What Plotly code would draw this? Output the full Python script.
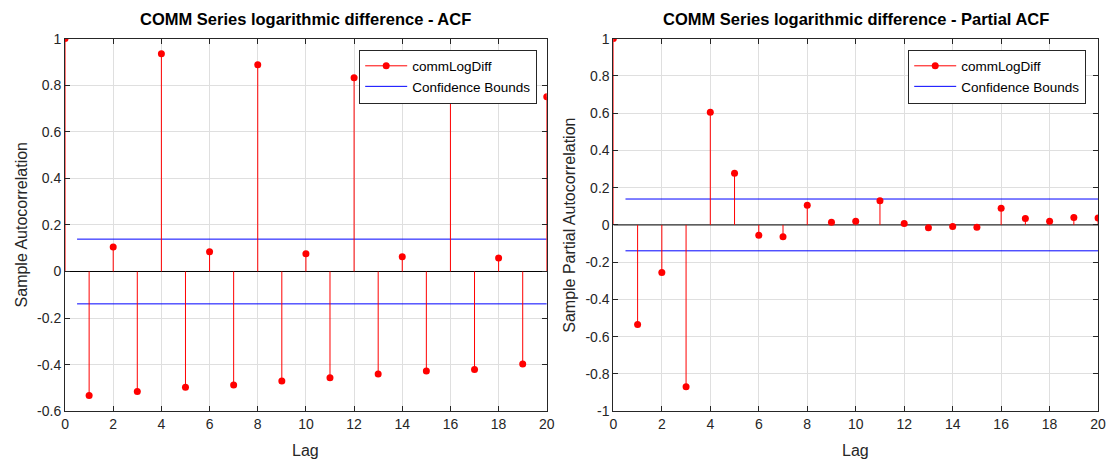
import plotly.graph_objects as go

lags = list(range(0, 21))
acf_vals = [1.0, -0.532, 0.105, -0.515, 0.935, -0.497, 0.085, -0.487, 0.888, -0.470,
            0.076, -0.456, 0.832, -0.440, 0.063, -0.427, 0.790, -0.421, 0.058, -0.397, 0.750]
pacf_vals = [1.0, -0.535, -0.255, -0.868, 0.605, 0.278, -0.055, -0.063, 0.105, 0.015,
             0.020, 0.130, 0.008, -0.015, -0.008, -0.013, 0.090, 0.035, 0.020, 0.040, 0.037]
conf_bound = 0.139
conf_start = 0.5
series_name = "commLogDiff"
bounds_name = "Confidence Bounds"
titles = ["COMM Series logarithmic difference - ACF",
          "COMM Series logarithmic difference - Partial ACF"]
ylabels = ["Sample Autocorrelation", "Sample Partial Autocorrelation"]
xticks = list(range(0, 21, 2))
yticks_left = [-0.6, -0.4, -0.2, 0, 0.2, 0.4, 0.6, 0.8, 1]
yticks_right = [-1, -0.8, -0.6, -0.4, -0.2, 0, 0.2, 0.4, 0.6, 0.8, 1]
yranges = [[-0.6, 1], [-1, 1]]

W, H = 1114, 468
RED = "#ff0000"
BLUE = "#0000ff"
AX = "#262626"
GRID = "#dfdfdf"
FONT = "Liberation Sans, Arial, sans-serif"

fig = go.Figure()

panels = [
    dict(vals=acf_vals, xd=[61.7, 548.7], xa="x", ya="y", leg="legend", yt=yticks_left),
    dict(vals=pacf_vals, xd=[616, 1106], xa="x2", ya="y2", leg="legend2", yt=yticks_right),
]
ytop, ybot = 31.7, 417.5

for i, p in enumerate(panels):
    sx, sy = [], []
    for k, v in zip(lags, p["vals"]):
        sx += [k, k, None]
        sy += [0, v, None]
    # baseline
    fig.add_trace(go.Scatter(x=[lags[0], lags[-1]], y=[0, 0], mode="lines",
                             line=dict(color="#000000", width=1), showlegend=False,
                             xaxis=p["xa"], yaxis=p["ya"], hoverinfo="skip"))
    # confidence bounds
    for j, s in enumerate((1, -1)):
        fig.add_trace(go.Scatter(x=[conf_start, lags[-1]], y=[s * conf_bound] * 2, mode="lines",
                                 line=dict(color=BLUE, width=1), name=bounds_name,
                                 showlegend=(j == 0), legend=p["leg"], legendrank=2,
                                 xaxis=p["xa"], yaxis=p["ya"]))
    # stems
    fig.add_trace(go.Scatter(x=sx, y=sy, mode="lines", line=dict(color=RED, width=1),
                             showlegend=False, xaxis=p["xa"], yaxis=p["ya"], hoverinfo="skip"))
    # markers
    fig.add_trace(go.Scatter(x=lags, y=p["vals"], mode="markers",
                             marker=dict(color=RED, size=7), showlegend=False,
                             xaxis=p["xa"], yaxis=p["ya"]))
    # legend entry for stems
    fig.add_trace(go.Scatter(x=[None], y=[None], mode="lines+markers", name=series_name,
                             line=dict(color=RED, width=1), marker=dict(color=RED, size=7),
                             legend=p["leg"], legendrank=1, xaxis=p["xa"], yaxis=p["ya"]))

    axkey = "xaxis" if i == 0 else "xaxis2"
    aykey = "yaxis" if i == 0 else "yaxis2"
    fig.update_layout(**{
        axkey: dict(domain=[p["xd"][0] / W, p["xd"][1] / W], range=[0, 20],
                    tickvals=xticks, showgrid=True, gridcolor=GRID, zeroline=False,
                    showline=True, linecolor=AX, linewidth=1, mirror="ticks",
                    ticks="inside", ticklen=5, tickcolor=AX, anchor=p["ya"],
                    tickfont=dict(size=14, color=AX, family=FONT)),
        aykey: dict(domain=[1 - ybot / H, 1 - ytop / H], range=yranges[i],
                    tickvals=p["yt"], ticktext=[f"{t:g}" for t in p["yt"]],
                    showgrid=True, gridcolor=GRID, zeroline=False,
                    showline=True, linecolor=AX, linewidth=1, mirror="ticks",
                    ticks="inside", ticklen=5, tickcolor=AX, anchor=p["xa"],
                    tickfont=dict(size=14, color=AX, family=FONT)),
    })
    cx = (p["xd"][0] + p["xd"][1]) / 2 / W
    fig.add_annotation(text="<b>" + titles[i] + "</b>", x=cx, y=1 - 11 / H, xref="paper", yref="paper",
                       showarrow=False, font=dict(size=16.5, color="#000000", family=FONT),
                       xanchor="center", yanchor="middle")
    fig.add_annotation(text="Lag", x=cx, y=1 - 458 / H, xref="paper", yref="paper",
                       showarrow=False, font=dict(size=16, color=AX, family=FONT),
                       xanchor="center", yanchor="middle")
    fig.add_annotation(text=ylabels[i], x=(p["xd"][0] - 44) / W, y=1 - (ytop + ybot) / 2 / H,
                       xref="paper", yref="paper", textangle=-90, showarrow=False,
                       font=dict(size=16, color=AX, family=FONT),
                       xanchor="center", yanchor="middle")

legstyle = dict(bgcolor="white", bordercolor=AX, borderwidth=1,
                font=dict(size=13.5, color="#000000", family=FONT),
                xanchor="right", yanchor="top", itemwidth=42, tracegroupgap=0)
fig.update_layout(
    width=W, height=H, margin=dict(l=0, r=0, t=0, b=0),
    paper_bgcolor="white", plot_bgcolor="white", showlegend=True,
    legend=dict(**legstyle, x=539 / W, y=1 - 43 / H),
    legend2=dict(**legstyle, x=1094 / W, y=1 - 43 / H),
)

fig.write_html("out.html")
